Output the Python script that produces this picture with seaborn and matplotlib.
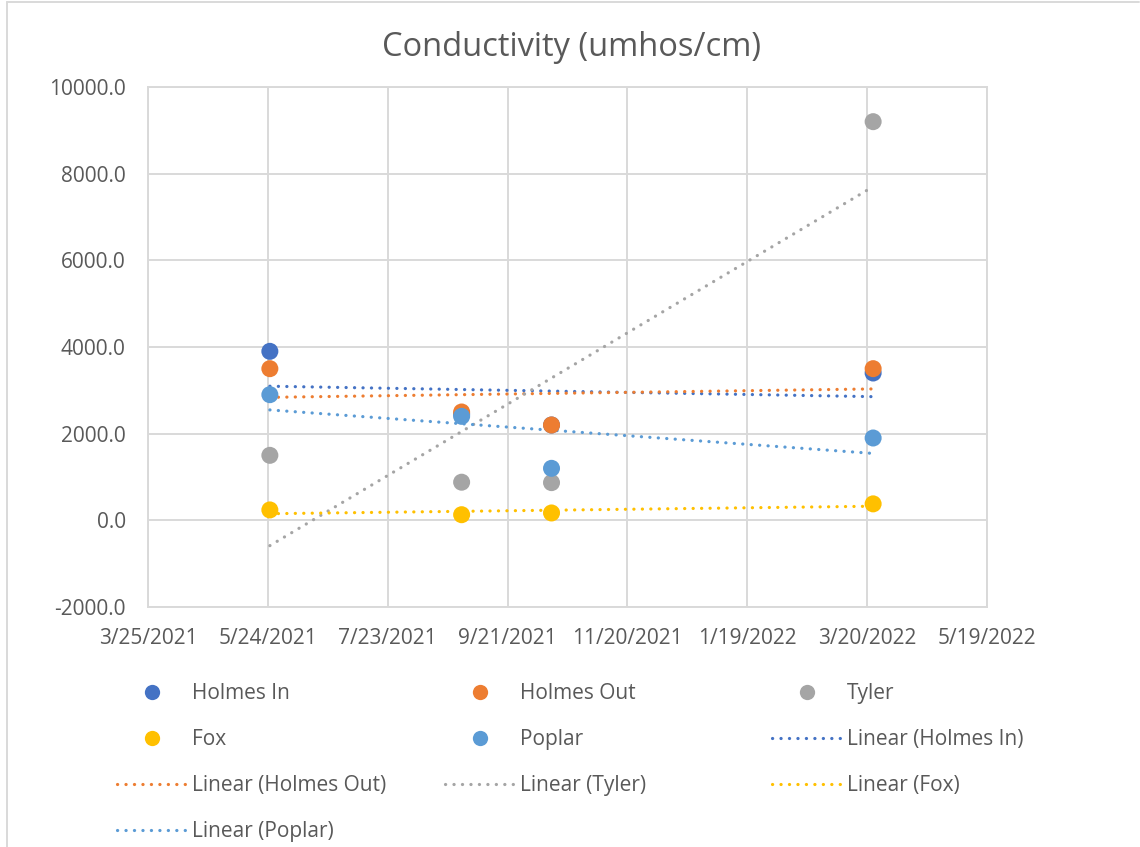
import pandas as pd
import numpy as np
import matplotlib
matplotlib.use("Agg")
import matplotlib.pyplot as plt
import matplotlib.dates as mdates
from matplotlib.lines import Line2D
import seaborn as sns

# sample dates and conductivity readings (umhos/cm)
sample_dates = ["2021-05-25", "2021-08-29", "2021-10-13", "2022-03-23"]
holmes_in = [3900, 2450, 2200, 3400]
holmes_out = [3500, 2500, 2200, 3500]
tyler = [1500, 880, 870, 9200]
fox = [240, 130, 170, 380]
poplar = [2900, 2400, 1200, 1900]

series_names = ["Holmes In", "Holmes Out", "Tyler", "Fox", "Poplar"]
series_values = [holmes_in, holmes_out, tyler, fox, poplar]
colors = ["#4472C4", "#ED7D31", "#A5A5A5", "#FFC000", "#5B9BD5"]

x_ticks = ["2021-03-25", "2021-05-24", "2021-07-23", "2021-09-21",
           "2021-11-20", "2022-01-19", "2022-03-20", "2022-05-19"]
x_tick_labels = ["3/25/2021", "5/24/2021", "7/23/2021", "9/21/2021",
                 "11/20/2021", "1/19/2022", "3/20/2022", "5/19/2022"]
y_ticks = [-2000, 0, 2000, 4000, 6000, 8000, 10000]

sns.set_style("white")
plt.rcParams['font.family'] = ['Open Sans', 'DejaVu Sans']
text_color = "#595959"
grid_color = "#D9D9D9"
fs = 15

fig = plt.figure(figsize=(11.4, 8.47), dpi=100)
ax = fig.add_axes([148 / 1140, 1 - 607 / 847, (987 - 148) / 1140, (607 - 87) / 847])

xnum = mdates.date2num(pd.to_datetime(sample_dates))
rows = []
for name, vals in zip(series_names, series_values):
    for xv, yv in zip(xnum, vals):
        rows.append({"series": name, "x": xv, "y": yv})
df = pd.DataFrame(rows)

dot_style = (0, (0.05, 2.6))

# trendlines first (Excel draws points on top)
for name, col in zip(series_names, colors):
    sub = df[df["series"] == name]
    sns.regplot(data=sub, x="x", y="y", ax=ax, scatter=False, ci=None, truncate=True,
                line_kws=dict(color=col, lw=2.3, linestyle=dot_style,
                              dash_capstyle="round", zorder=3))

sns.scatterplot(data=df, x="x", y="y", hue="series", palette=colors,
                hue_order=series_names, s=150, linewidth=0, ax=ax, legend=False, zorder=4)

xt = mdates.date2num(pd.to_datetime(x_ticks))
ax.set_xlim(xt[0], xt[-1])
ax.set_ylim(-2000, 10000)
ax.set_xticks(xt)
ax.set_xticklabels(x_tick_labels)
ax.set_yticks(y_ticks)
ax.set_yticklabels([f"{v:.1f}" for v in y_ticks])
ax.set_xlabel("")
ax.set_ylabel("")
ax.grid(True, color=grid_color, lw=1.4)
ax.set_axisbelow(True)
for s in ax.spines.values():
    s.set_color(grid_color)
    s.set_linewidth(1.4)
ax.tick_params(axis="both", length=0, labelsize=fs, colors=text_color)
ax.tick_params(axis="y", pad=16)
ax.tick_params(axis="x", pad=15)

fig.text(572 / 1140, 1 - 48 / 847, "Conductivity (umhos/cm)", ha="center", va="center",
         fontsize=23.5, color=text_color)

# legend handles
pt_handles = [Line2D([], [], marker="o", ls="none", markersize=11, color=c,
                     markeredgewidth=0) for c in colors]
ln_handles = [Line2D([], [], color=c, lw=2.3, linestyle=dot_style, dash_capstyle="round")
              for c in colors]
labels_pt = series_names
labels_ln = [f"Linear ({n})" for n in series_names]

columns = [
    ([pt_handles[0], pt_handles[3], ln_handles[1], ln_handles[4]],
     [labels_pt[0], labels_pt[3], labels_ln[1], labels_ln[4]], 117),
    ([pt_handles[1], pt_handles[4], ln_handles[2]],
     [labels_pt[1], labels_pt[4], labels_ln[2]], 445),
    ([pt_handles[2], ln_handles[0], ln_handles[3]],
     [labels_pt[2], labels_ln[0], labels_ln[3]], 772),
]
for hs, ls, x0 in columns:
    fig.legend(hs, ls, loc="upper left", bbox_to_anchor=(x0 / 1140, 1 - 683 / 847),
               frameon=False, fontsize=fs, labelcolor=text_color, handlelength=3.4,
               handletextpad=0.2, labelspacing=1.2, borderpad=0, borderaxespad=0)

# chart border (left and top edges visible)
fig.add_artist(Line2D([6.5 / 1140, 6.5 / 1140], [0, 1 - 2.5 / 847], transform=fig.transFigure,
                      color=grid_color, lw=1.4))
fig.add_artist(Line2D([6.5 / 1140, 0.999], [1 - 2.5 / 847, 1 - 2.5 / 847], transform=fig.transFigure,
                      color=grid_color, lw=1.4))

fig.savefig("out.png", dpi=100)
